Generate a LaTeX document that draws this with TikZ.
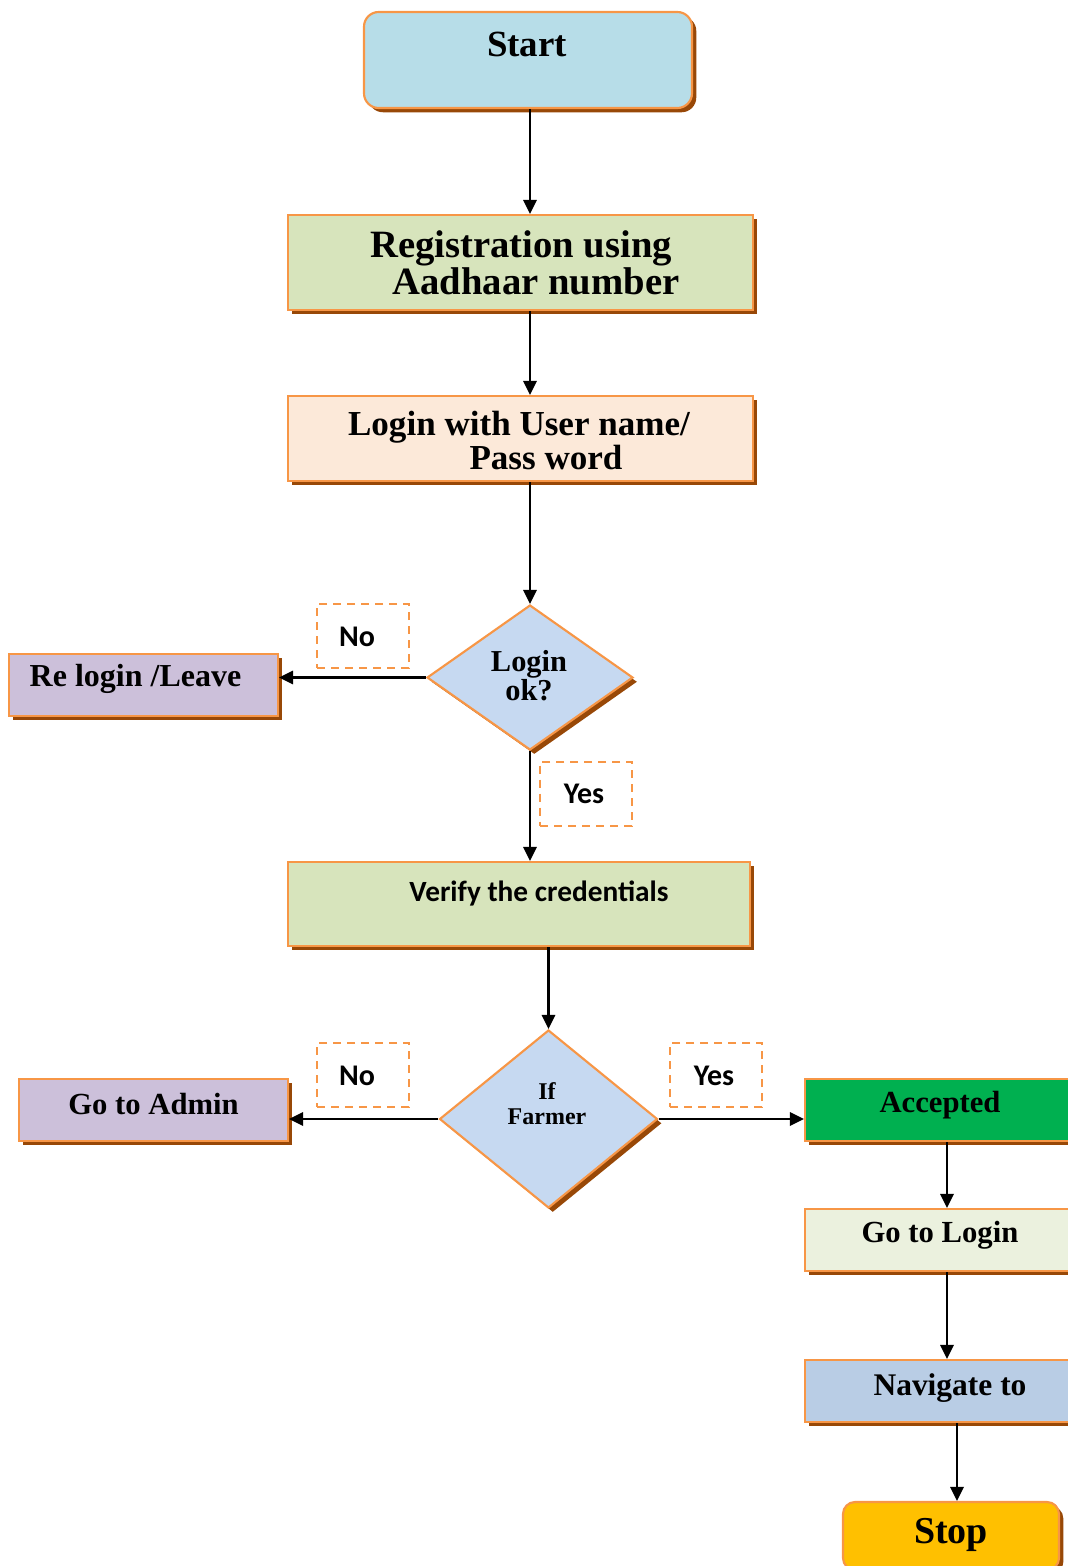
\documentclass[tikz,border=0pt]{standalone}
\usepackage{fontspec}
\setmainfont{Liberation Serif}
\newfontfamily\carlito{Carlito}
\usetikzlibrary{shapes.geometric,shadows,arrows.meta}
\definecolor{edgeor}{HTML}{F79646}
\definecolor{shadebr}{HTML}{984807}
\definecolor{cstart}{HTML}{B7DDE8}
\definecolor{cgreen}{HTML}{D7E4BC}
\definecolor{cpeach}{HTML}{FCE9D9}
\definecolor{cdia}{HTML}{C6D9F1}
\definecolor{cviolet}{HTML}{CCC0DA}
\definecolor{cacc}{HTML}{00B050}
\definecolor{cgolog}{HTML}{EBF1DE}
\definecolor{cnav}{HTML}{B9CDE5}
\definecolor{cstop}{HTML}{FFC000}
\newcommand\myfs[1]{\fontsize{#1}{#1}\selectfont}
\tikzset{
  box/.style={draw=edgeor, line width=1.6pt, inner sep=0pt,
    general shadow={fill=shadebr, shadow xshift=3.2pt, shadow yshift=-3.2pt}},
  conn/.style={line width=1.7pt, -{Triangle[length=10.5pt,width=10pt]}},
  lbl/.style={draw=edgeor, line width=1.5pt, dash pattern=on 6pt off 4.5pt,
    minimum width=69pt, minimum height=48pt, inner sep=0pt},
  txt/.style={anchor=base, inner sep=0pt, font=\bfseries},
  ctxt/.style={anchor=base, inner sep=0pt, font=\carlito\bfseries},
}
\begin{document}
\begin{tikzpicture}[x=0.75pt,y=-0.75pt]
\useasboundingbox (0,0) rectangle (1067,1566);
% shapes
\node[box, fill=cstart, rounded corners=11pt, minimum width=246pt, minimum height=72pt] (start) at (528,60) {};
\node[box, fill=cgreen, minimum width=348.75pt, minimum height=71.25pt] (reg) at (520.5,262.5) {};
\node[box, fill=cpeach, minimum width=348.75pt, minimum height=63.75pt] (login) at (520.5,438.5) {};
\node[box, fill=cdia, shape=diamond, minimum width=154.5pt, minimum height=108.75pt] (d1) at (530,677.5) {};
\node[box, fill=cviolet, minimum width=201.75pt, minimum height=46.5pt] (relog) at (143.5,685) {};
\node[box, fill=cgreen, minimum width=346.5pt, minimum height=63pt] (verify) at (519,904) {};
\node[box, fill=cdia, shape=diamond, minimum width=163.5pt, minimum height=133.5pt] (d2) at (548.5,1119) {};
\node[box, fill=cviolet, minimum width=201.75pt, minimum height=46.5pt] (admin) at (153.5,1110) {};
\node[box, fill=cacc, minimum width=206.25pt, minimum height=46.5pt] (acc) at (942.5,1110) {};
\node[box, fill=cgolog, minimum width=206.25pt, minimum height=46.5pt] (golog) at (942.5,1240) {};
\node[box, fill=cnav, minimum width=206.25pt, minimum height=46.5pt] (nav) at (942.5,1391) {};
\node[box, fill=cstop, rounded corners=9pt, minimum width=162pt, minimum height=51pt] (stop) at (951,1536) {};
% dashed labels
\node[lbl] (no1) at (363,636) {};
\node[lbl] (yes1) at (586,793.5) {};
\node[lbl] (no2) at (363,1075) {};
\node[lbl] (yes2) at (716,1075) {};
% texts
\node[txt, font=\bfseries\myfs{27.7}] (tstart) at (527,57) {Start};
\node[txt, font=\bfseries\myfs{29}] (treg1) at (521,257) {Registration using};
\node[txt, font=\bfseries\myfs{29}] (treg2) at (536,294) {Aadhaar number};
\node[txt, font=\bfseries\myfs{26.3}] (tlog1) at (519,435.5) {Login with User name/};
\node[txt, font=\bfseries\myfs{26.3}] (tlog2) at (546,469.5) {Pass word};
\node[txt, font=\bfseries\myfs{22.8}] (tok1) at (529,671) {Login};
\node[txt, font=\bfseries\myfs{22.8}] (tok2) at (529,700) {ok?};
\node[txt, font=\bfseries\myfs{24}] (trelog) at (135.5,686) {Re login /Leave};
\node[ctxt, font=\carlito\bfseries\myfs{22.5}] (tno1) at (357,646) {No};
\node[ctxt, font=\carlito\bfseries\myfs{22.5}] (tyes1) at (584,803) {Yes};
\node[ctxt, font=\carlito\bfseries\myfs{22}] (tverify) at (539,901) {Verify the credentials};
\node[txt, font=\bfseries\myfs{18}] (tif) at (547,1099) {If};
\node[txt, font=\bfseries\myfs{18}] (tfarmer) at (547,1124) {Farmer};
\node[ctxt, font=\carlito\bfseries\myfs{22.5}] (tno2) at (357,1085) {No};
\node[ctxt, font=\carlito\bfseries\myfs{22.5}] (tyes2) at (714,1085) {Yes};
\node[txt, font=\bfseries\myfs{23}] (tadmin) at (153.5,1114) {Go to Admin};
\node[txt, font=\bfseries\myfs{23}] (tacc) at (940,1112) {Accepted};
\node[txt, font=\bfseries\myfs{23}] (tgolog) at (940,1242) {Go to Login};
\node[txt, font=\bfseries\myfs{23.6}] (tnav) at (950,1395) {Navigate to};
\node[txt, font=\bfseries\myfs{28.5}] (tstop) at (951,1543) {Stop};
% helper coordinates
\coordinate (xa) at (530,0);
\coordinate (xc) at (947,0);
\coordinate (xd) at (957,0);
% connectors
\draw[conn] (start.south -| xa) -- (reg.north -| xa);
\draw[conn] (reg.south -| xa) -- (login.north -| xa);
\draw[conn] (login.south -| xa) -- (d1.north);
\draw[conn] (d1.west) -- (d1.west -| relog.east);
\draw[conn] (d1.south) -- (verify.north -| d1.south);
\draw[conn] (verify.south -| d2.north) -- (d2.north);
\draw[conn] (d2.west) -- (d2.west -| admin.east);
\draw[conn] (d2.east) -- (d2.east -| acc.west);
\draw[conn] (acc.south -| xc) -- (golog.north -| xc);
\draw[conn] (golog.south -| xc) -- (nav.north -| xc);
\draw[conn] (nav.south -| xd) -- (stop.north -| xd);
\end{tikzpicture}
\end{document}
